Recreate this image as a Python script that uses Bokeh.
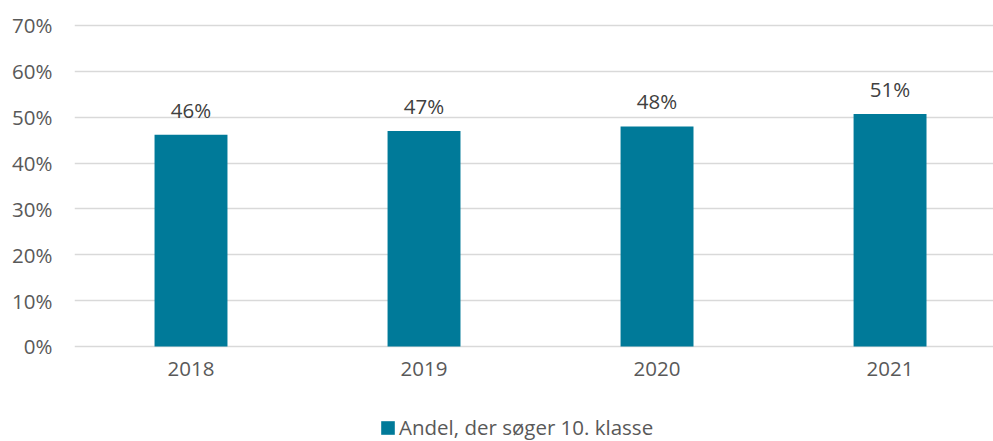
from bokeh.plotting import figure
from bokeh.models import Range1d, ColumnDataSource, Legend, LegendItem, FixedTicker
from bokeh.core.properties import value
from bokeh.embed import file_html
from bokeh.resources import INLINE

years = ["2018", "2019", "2020", "2021"]
shares = [46.2, 47.0, 48.0, 50.7]
share_labels = ["46%", "47%", "48%", "51%"]
y_ticks = [0, 10, 20, 30, 40, 50, 60, 70]
y_tick_labels = ["0%", "10%", "20%", "30%", "40%", "50%", "60%", "70%"]
series_name = "Andel, der søger 10. klasse"

FONT = "Open Sans"
FS = "20.5px"
BAR = "#007A99"
GREY = "#595959"

xs = list(range(len(years)))
src = ColumnDataSource(dict(x=xs, top=shares, label=share_labels))

# frame spans the full height below the top border; 0% sits at 346px,
# the space under it holds the year labels and the legend
p = figure(width=993, height=441, output_backend="svg", toolbar_location=None,
           x_range=Range1d(-0.5, 3.444), y_range=Range1d(-20.72, 70.436),
           min_border_left=74, min_border_right=0, min_border_top=23,
           min_border_bottom=0)
p.outline_line_color = None

r = p.vbar(x="x", top="top", bottom=0, width=0.313, source=src,
           fill_color=BAR, line_color=None)
p.text(x="x", y="top", text="label", source=src, text_align="center",
       text_baseline="middle", y_offset=-25, text_font=value(FONT),
       text_font_size=FS, text_color="#404040")

xa = p.xaxis[0]
xa.fixed_location = 0
xa.ticker = FixedTicker(ticks=xs)
xa.major_label_overrides = {i: y for i, y in enumerate(years)}
xa.axis_line_color = None
xa.major_tick_line_color = None
xa.minor_tick_line_color = None
xa.major_tick_out = 0
xa.major_tick_in = 0
xa.major_label_standoff = 16
xa.major_label_text_font = FONT
xa.major_label_text_font_size = FS
xa.major_label_text_color = GREY

ya = p.yaxis[0]
ya.ticker = FixedTicker(ticks=y_ticks)
ya.major_label_overrides = {t: l for t, l in zip(y_ticks, y_tick_labels)}
ya.axis_line_color = None
ya.major_tick_line_color = None
ya.minor_tick_line_color = None
ya.major_tick_out = 0
ya.major_tick_in = 0
ya.major_label_standoff = 22
ya.major_label_text_font = FONT
ya.major_label_text_font_size = FS
ya.major_label_text_color = GREY

p.xgrid.visible = False
p.ygrid.ticker = FixedTicker(ticks=y_ticks)
p.ygrid.grid_line_color = "#D9D9D9"
p.ygrid.grid_line_width = 1.5

legend = Legend(items=[LegendItem(label=series_name, renderers=[r])],
                location=(305, 0), orientation="horizontal",
                glyph_width=17, glyph_height=17, label_standoff=3,
                padding=0, margin=0, border_line_color=None,
                background_fill_alpha=0,
                label_text_font=FONT, label_text_font_size=FS,
                label_text_color=GREY)
p.add_layout(legend)

open("out.html", "w").write(file_html(p, INLINE))
